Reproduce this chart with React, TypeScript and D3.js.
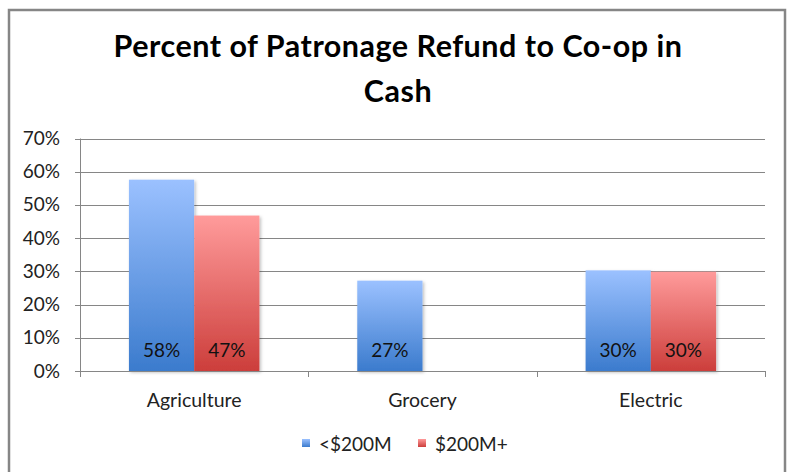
import React from "react";
import * as d3 from "d3";

const categories = ["Agriculture", "Grocery", "Electric"];
const seriesNames = ["<$200M", "$200M+"];
const smallValues: (number | null)[] = [0.576, 0.272, 0.303];
const largeValues: (number | null)[] = [0.468, null, 0.299];
const yTicks = [0, 0.1, 0.2, 0.3, 0.4, 0.5, 0.6, 0.7];
const titleLines = ["Percent of Patronage Refund to Co-op in", "Cash"];

const W = 789;
const H = 472;
const FONT = "Lato, 'Open Sans', sans-serif";

export default function App() {
  const left = 80, right = 765, top = 138.5, bottom = 371;
  const x0 = d3.scaleBand<string>().domain(categories).range([left, right]).paddingInner(0).paddingOuter(0);
  const y = d3.scaleLinear().domain([0, 0.7]).range([bottom, top]);
  const bw = x0.bandwidth();
  const barW = bw / 3.5;
  const x1 = d3.scaleBand<string>().domain(seriesNames).range([0, 2 * barW]);
  const series = [
    { name: seriesNames[0], values: smallValues, grad: "gBlue" },
    { name: seriesNames[1], values: largeValues, grad: "gRed" },
  ];
  const fmt = d3.format(".0%");
  return (
    <svg width={W} height={H} style={{ position: "absolute", left: 0, top: 0 }}>
      <defs>
        <linearGradient id="gBlue" x1="0" y1="0" x2="0" y2="1">
          <stop offset="0%" stopColor="#9BC1FF" />
          <stop offset="100%" stopColor="#3B7BCD" />
        </linearGradient>
        <linearGradient id="gRed" x1="0" y1="0" x2="0" y2="1">
          <stop offset="0%" stopColor="#FF9B9B" />
          <stop offset="100%" stopColor="#CC3E3B" />
        </linearGradient>
        <filter id="sh" x="-10%" y="-10%" width="130%" height="120%">
          <feDropShadow dx="1.5" dy="1.5" stdDeviation="1.5" floodColor="#000" floodOpacity="0.25" />
        </filter>
      </defs>
      <rect x={0} y={0} width={W} height={H} fill="#fff" />
      <rect x={9} y={10} width={776} height={480} fill="#fff" stroke="#868686" strokeWidth={2.5} />
      {titleLines.map((t, i) => (
        <text key={i} x={398} y={57 + i * 45} textAnchor="middle" fontFamily={FONT} fontWeight="bold" fontSize={30.5} letterSpacing={0.5} fill="#000">
          {t}
        </text>
      ))}
      {yTicks.map((t) => (
        <g key={t}>
          <line x1={left - 5} x2={t === 0 ? left : right} y1={Math.round(y(t)) + 0.5} y2={Math.round(y(t)) + 0.5} stroke="#868686" strokeWidth={1} />
          <text x={60} y={y(t) + 6.5} textAnchor="end" fontFamily={FONT} fontSize={19} fill="#222">
            {fmt(t)}
          </text>
        </g>
      ))}
      <line x1={left + 0.5} x2={left + 0.5} y1={top} y2={bottom} stroke="#868686" />
      {series.map((s, si) =>
        categories.map((c, ci) => {
          const v = s.values[ci];
          if (v == null) return null;
          const bx = (x0(c) as number) + (bw - 2 * barW) / 2 + (x1(s.name) as number);
          return (
            <g key={c + si}>
              <rect x={bx} y={y(v)} width={barW} height={bottom - y(v)} fill={`url(#${s.grad})`} filter="url(#sh)" />
              <text x={bx + barW / 2} y={357} textAnchor="middle" fontFamily={FONT} fontSize={19} fill="#111">
                {fmt(v)}
              </text>
            </g>
          );
        })
      )}
      <line x1={left} x2={right} y1={bottom + 0.5} y2={bottom + 0.5} stroke="#868686" />
      {[...categories.map((c) => x0(c) as number), right].map((tx, i) => (
        <line key={i} x1={Math.round(tx) + 0.5} x2={Math.round(tx) + 0.5} y1={bottom} y2={bottom + 6} stroke="#868686" />
      ))}
      {categories.map((c) => (
        <text key={c} x={(x0(c) as number) + bw / 2} y={407} textAnchor="middle" fontFamily={FONT} fontSize={19.5} fill="#222">
          {c}
        </text>
      ))}
      {series.map((s, i) => {
        const lx = i === 0 ? 302 : 418;
        return (
          <g key={s.name}>
            <rect x={lx} y={439} width={8} height={8} fill={`url(#${s.grad})`} />
            <text x={lx + 17} y={451} fontFamily={FONT} fontSize={19} fill="#222">
              {s.name}
            </text>
          </g>
        );
      })}
    </svg>
  );
}
